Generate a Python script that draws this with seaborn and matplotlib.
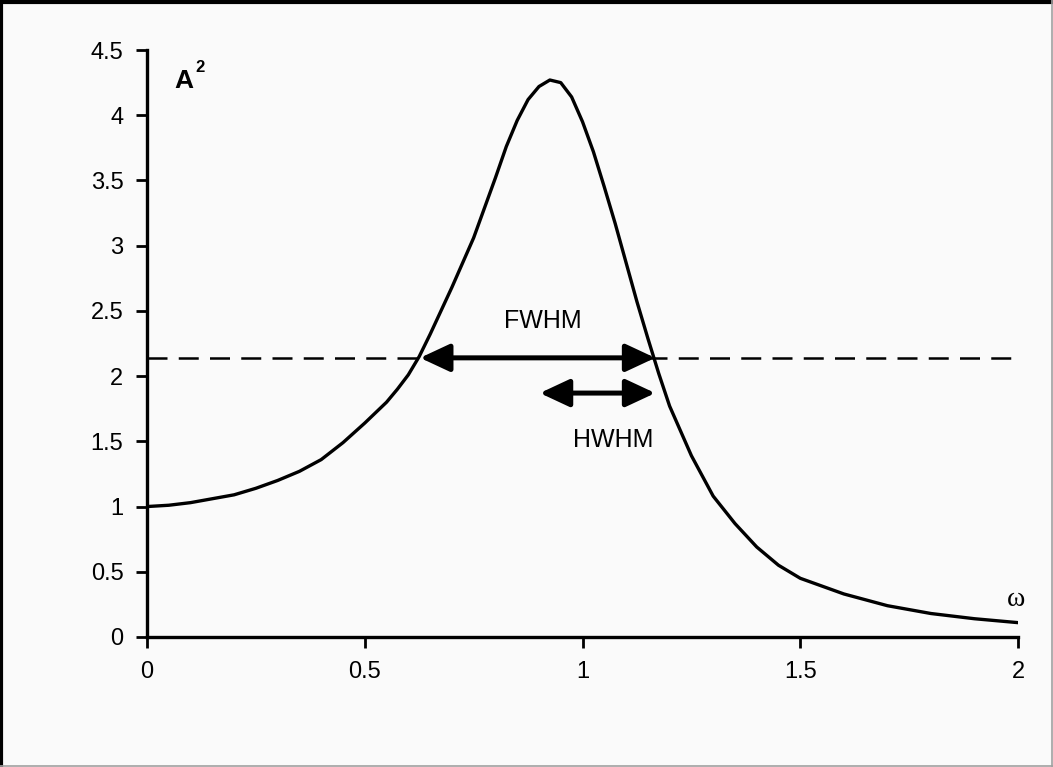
import matplotlib
matplotlib.use("Agg")
import matplotlib.pyplot as plt
from matplotlib.lines import Line2D
import seaborn as sns
import pandas as pd

# Resonance curve: squared amplitude against driving frequency
omega = [0.00, 0.05, 0.10, 0.15, 0.20, 0.25, 0.30, 0.35, 0.40, 0.45, 0.50, 0.55,
         0.575, 0.60, 0.625, 0.65, 0.70, 0.75, 0.775, 0.80, 0.825, 0.85, 0.875,
         0.90, 0.925, 0.95, 0.975, 1.00, 1.025, 1.05, 1.075, 1.10, 1.125, 1.15,
         1.175, 1.20, 1.25, 1.30, 1.35, 1.40, 1.45, 1.50, 1.60, 1.70, 1.80, 1.90,
         2.00]
amp_sq = [1.00, 1.01, 1.03, 1.06, 1.09, 1.14, 1.20, 1.27, 1.36, 1.49, 1.64, 1.80,
          1.90, 2.01, 2.15, 2.32, 2.68, 3.06, 3.29, 3.52, 3.76, 3.96, 4.12,
          4.22, 4.27, 4.25, 4.14, 3.95, 3.72, 3.45, 3.17, 2.87, 2.57, 2.29,
          2.02, 1.77, 1.39, 1.08, 0.87, 0.69, 0.55, 0.45, 0.33, 0.24, 0.18, 0.14,
          0.11]

half_max = 2.14
fwhm_left, fwhm_right = 0.627, 1.167
hwhm_left, hwhm_right = 0.902, 1.167
hwhm_level = 1.87

x_ticks = [0, 0.5, 1, 1.5, 2]
x_tick_labels = ["0", "0.5", "1", "1.5", "2"]
y_ticks = [0, 0.5, 1, 1.5, 2, 2.5, 3, 3.5, 4, 4.5]
y_tick_labels = ["0", "0.5", "1", "1.5", "2", "2.5", "3", "3.5", "4", "4.5"]

sns.set_theme(style="white")
plt.rcParams["font.family"] = ["Liberation Sans", "DejaVu Sans"]

bg = "#fafafa"
fig = plt.figure(figsize=(10.53, 7.67), dpi=100, facecolor=bg)
ax = fig.add_axes([0.1396, 0.1695, 0.9668 - 0.1396, 0.9348 - 0.1695])
ax.set_facecolor(bg)

df = pd.DataFrame({"omega": omega, "A2": amp_sq})
sns.lineplot(data=df, x="omega", y="A2", ax=ax, color="black", linewidth=2.4)

# half-maximum level
ax.axhline(half_max, xmin=0, xmax=1, color="black", linewidth=1.8,
           linestyle=(0, (8, 4.5)))

arrow_style = "<|-|>,head_length=0.6,head_width=0.28"
ax.annotate("", xy=(fwhm_right, half_max), xytext=(fwhm_left, half_max),
            arrowprops=dict(arrowstyle=arrow_style, color="black", lw=3.6,
                            mutation_scale=30, shrinkA=0, shrinkB=0))
ax.annotate("", xy=(hwhm_right, hwhm_level), xytext=(hwhm_left, hwhm_level),
            arrowprops=dict(arrowstyle=arrow_style, color="black", lw=3.6,
                            mutation_scale=30, shrinkA=0, shrinkB=0))
ax.text(0.908, 2.42, "FWHM", ha="center", va="center", fontsize=18, color="black")
ax.text(1.07, 1.51, "HWHM", ha="center", va="center", fontsize=18, color="black")

ax.text(0.063, 4.21, "A", ha="left", va="baseline", fontsize=19,
        fontweight="bold", color="black")
ax.text(0.112, 4.33, "2", ha="left", va="baseline", fontsize=12,
        fontweight="bold", color="black")
ax.text(1.995, 0.235, "ω", ha="center", va="baseline", fontsize=20,
        family=["Liberation Serif", "DejaVu Serif"], color="black")

ax.set_xlim(0, 2)
ax.set_ylim(0, 4.5)
ax.set_xticks(x_ticks)
ax.set_xticklabels(x_tick_labels)
ax.set_yticks(y_ticks)
ax.set_yticklabels(y_tick_labels)
ax.set_xlabel("")
ax.set_ylabel("")
ax.tick_params(axis="both", which="major", direction="out", length=8, width=2,
               color="black", labelsize=17, labelcolor="black", pad=9,
               left=True, bottom=True)
for side in ("top", "right"):
    ax.spines[side].set_visible(False)
for side in ("left", "bottom"):
    ax.spines[side].set_color("black")
    ax.spines[side].set_linewidth(2.4)

# chart frame
fig.add_artist(Line2D([0, 1], [0.9975, 0.9975], transform=fig.transFigure,
                      color="black", linewidth=3))
fig.add_artist(Line2D([0.0012, 0.0012], [0, 1], transform=fig.transFigure,
                      color="black", linewidth=3))
fig.add_artist(Line2D([0, 1], [0.0015, 0.0015], transform=fig.transFigure,
                      color="#a0a0a0", linewidth=1.2))
fig.add_artist(Line2D([0.999, 0.999], [0, 1], transform=fig.transFigure,
                      color="#a0a0a0", linewidth=1.2))

fig.savefig("out.png", dpi=100, facecolor=bg)
